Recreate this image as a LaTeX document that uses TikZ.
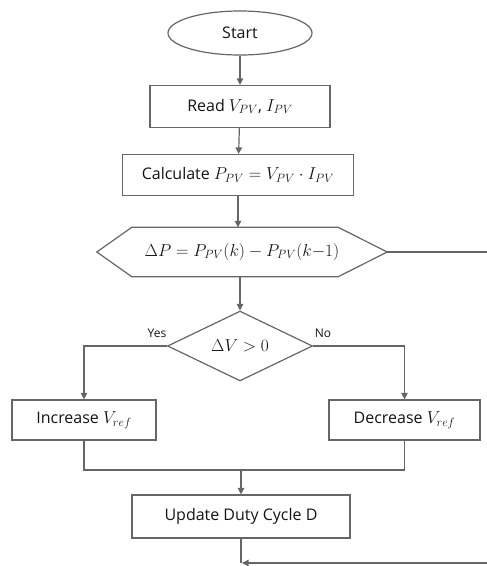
\documentclass[tikz,border=0pt]{standalone}
\usepackage{fontspec}
\setmainfont{Open Sans}
\usetikzlibrary{arrows.meta,shapes.geometric,calc}
\newcommand\mymath[1]{{\fontsize{17.5}{19}\selectfont$#1$}}
\begin{document}
\begin{tikzpicture}[x=1pt,y=-1pt,
  every node/.style={font=\fontsize{16}{18}\selectfont, text=black!92},
  ln/.style={draw=black!60, line width=1.2pt},
  arr/.style={ln, -{Triangle[width=6.5pt,length=6.5pt]}},
  procbox/.style={ln, rectangle, inner sep=0pt},
  lbl/.style={font=\fontsize{12}{14}\selectfont}]
\useasboundingbox (0,0) rectangle (487,566);
\node[ln, ellipse, minimum width=144pt, minimum height=44pt, inner sep=0pt] (start) at (240,33) {Start};
\node[procbox, minimum width=180pt, minimum height=42pt] (read) at (240,106.5) {Read \mymath{V_{PV}}, \mymath{I_{PV}}};
\node[procbox, minimum width=231pt, minimum height=41pt] (calc) at (238,175) {Calculate \mymath{P_{PV} = V_{PV}\cdot I_{PV}}};
\node[minimum width=290pt, minimum height=49pt, inner sep=0pt] (hex) at (242,252) {\mymath{\Delta P = P_{PV}(k) - P_{PV}(k{-}1)}};
\draw[ln] (hex.west) -- ([xshift=35pt]hex.north west) -- ([xshift=-49pt]hex.north east) -- (hex.east) -- ([xshift=-49pt]hex.south east) -- ([xshift=35pt]hex.south west) -- cycle;
\node[ln, diamond, minimum width=145pt, minimum height=65pt, inner sep=0pt] (dec) at (240,346) {\mymath{\Delta V > 0}};
\node[procbox, minimum width=144pt, minimum height=40pt] (inc) at (84,420) {Increase \mymath{V_{ref}}};
\node[procbox, minimum width=151pt, minimum height=40pt] (decr) at (404.5,420) {Decrease \mymath{V_{ref}}};
\node[procbox, minimum width=218pt, minimum height=43pt] (upd) at (241,516.5) {Update Duty Cycle D};
\node[lbl] (yes) at (157,333) {Yes};
\node[lbl] (no) at (323,333) {No};
\coordinate (hexout) at (487,252);
\coordinate (join) at (241,470);
\coordinate (bot) at (241,563);
\coordinate (botr) at (487,563);
\draw[arr] (start) -- (read);
\draw[arr] (read) -- (calc);
\draw[arr] (calc) -- (calc |- hex.north);
\draw[ln] (hex.east) -- (hexout);
\draw[arr] (hex.south -| dec.north) -- (dec.north);
\draw[arr] (dec.west) -| (inc.north);
\draw[arr] (dec.east) -| (decr.north);
\draw[ln] (inc.south) |- (join) -| (decr.south);
\draw[arr] (join) -- (upd.north);
\draw[ln] (upd.south) -- (bot);
\draw[arr] (botr) -- ([xshift=1pt]bot);
\end{tikzpicture}
\end{document}
